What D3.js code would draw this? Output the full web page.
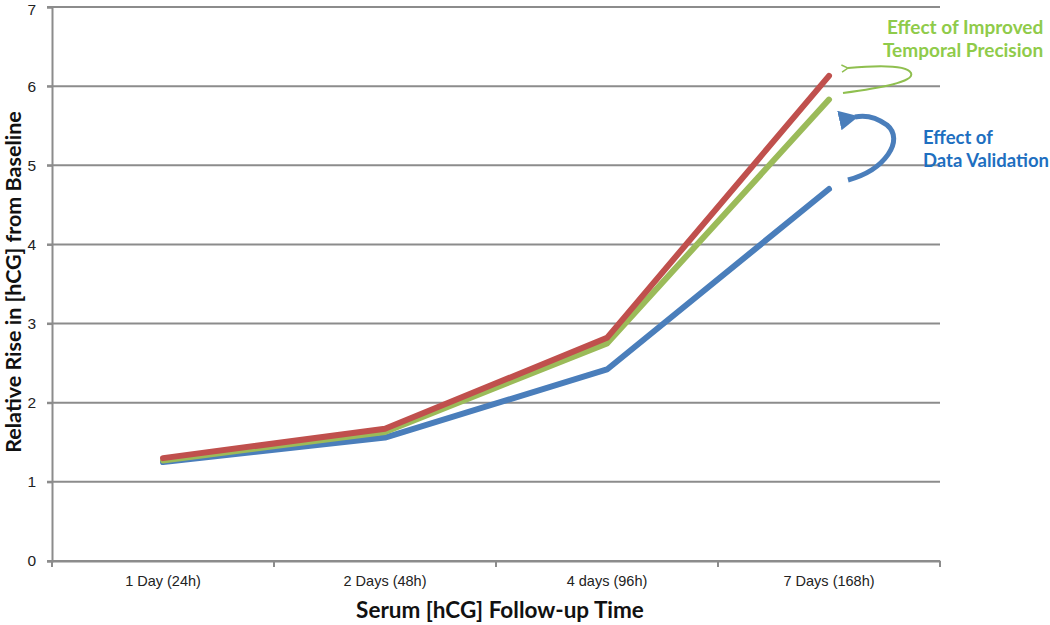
<!DOCTYPE html>
<html>
<head>
<meta charset="utf-8">
<script src="https://cdn.jsdelivr.net/npm/d3@7"></script>
<style>
  body { margin: 0; background: #fff; }
  svg { display: block; font-family: Lato, "Open Sans", sans-serif; }
</style>
</head>
<body>
<svg width="1050" height="625"></svg>
<script>
let categories = ['1 Day (24h)', '2 Days (48h)', '4 days (96h)', '7 Days (168h)']
let validated = [1.25, 1.56, 2.42, 4.70]
let precise = [1.27, 1.63, 2.75, 5.83]
let combined = [1.30, 1.67, 2.82, 6.13]
let yTicks = [0, 1, 2, 3, 4, 5, 6, 7]

let svg = d3.select('svg')
let plotLeft = 52, plotRight = 940, plotTop = 7, plotBottom = 561

let x = d3.scaleBand().domain(categories).range([plotLeft, plotRight])
let y = d3.scaleLinear().domain([0, 7]).range([plotBottom, plotTop])

// gridlines
svg.append('g')
  .selectAll('line')
  .data(yTicks)
  .join('line')
  .attr('x1', plotLeft - 5)
  .attr('x2', plotRight)
  .attr('y1', d => y(d))
  .attr('y2', d => y(d))
  .attr('stroke', '#8c8c8c')
  .attr('stroke-width', 2)

// y axis
let yAxis = svg.append('g')
  .attr('transform', `translate(${plotLeft},0)`)
  .call(d3.axisLeft(y).tickValues(yTicks).tickFormat(d3.format('d')).tickSize(5).tickPadding(11))
yAxis.select('.domain').attr('stroke', '#8c8c8c').attr('stroke-width', 2)
yAxis.selectAll('.tick line').attr('stroke', '#8c8c8c').attr('stroke-width', 2)
yAxis.selectAll('text')
  .attr('font-size', 15.5)
  .attr('fill', '#222')
  .attr('dy', d => d === 7 ? '0.5em' : '0.32em')

// x axis
let xAxis = svg.append('g')
  .attr('transform', `translate(0,${plotBottom})`)
  .call(d3.axisBottom(x).tickSize(0).tickPadding(15))
xAxis.select('.domain').attr('stroke', '#8c8c8c').attr('stroke-width', 2)
xAxis.selectAll('text').attr('font-size', 14.5).attr('fill', '#222')
svg.append('g')
  .selectAll('line')
  .data(categories.map(c => x(c)).concat([plotRight]))
  .join('line')
  .attr('x1', d => d)
  .attr('x2', d => d)
  .attr('y1', plotBottom)
  .attr('y2', plotBottom + 6)
  .attr('stroke', '#8c8c8c')
  .attr('stroke-width', 2)

// series lines
let line = d3.line()
  .x((d, i) => x(categories[i]) + x.bandwidth() / 2)
  .y(d => y(d))

let series = [
  { values: validated, color: '#4a7ebb' },
  { values: precise, color: '#9bbb59' },
  { values: combined, color: '#c0504d' }
]
svg.append('g')
  .selectAll('path')
  .data(series)
  .join('path')
  .attr('d', d => line(d.values))
  .attr('fill', 'none')
  .attr('stroke', d => d.color)
  .attr('stroke-width', 6)
  .attr('stroke-linecap', 'round')
  .attr('stroke-linejoin', 'round')

// axis titles
svg.append('text')
  .attr('x', 500)
  .attr('y', 618)
  .attr('text-anchor', 'middle')
  .attr('font-size', 22.5)
  .attr('font-weight', 'bold')
  .attr('fill', '#111')
  .text('Serum [hCG] Follow-up Time')

svg.append('text')
  .attr('transform', 'translate(21,282) rotate(-90)')
  .attr('text-anchor', 'middle')
  .attr('font-size', 21.5)
  .attr('font-weight', 'bold')
  .attr('fill', '#111')
  .text('Relative Rise in [hCG] from Baseline')

// annotations
let defs = svg.append('defs')
defs.append('marker')
  .attr('id', 'gHead')
  .attr('viewBox', '0 0 10 10')
  .attr('refX', 1).attr('refY', 5)
  .attr('markerWidth', 4.5).attr('markerHeight', 4.5)
  .attr('orient', 'auto-start-reverse')
  .append('path').attr('d', 'M8,1 L1,5 L8,9')
  .attr('fill', 'none').attr('stroke', '#8fbf4f').attr('stroke-width', 1.6)
defs.append('marker')
  .attr('id', 'bHead')
  .attr('viewBox', '0 0 10 10')
  .attr('refX', 2).attr('refY', 5)
  .attr('markerWidth', 4).attr('markerHeight', 4)
  .attr('orient', 'auto-start-reverse')
  .append('path').attr('d', 'M10,0 L0,5 L10,10 z').attr('fill', '#4a7ebb')

svg.append('path')
  .attr('d', 'M843,93 C880,88 915,82 911,73 C906,64 870,66 848,68')
  .attr('fill', 'none')
  .attr('stroke', '#8fbf4f')
  .attr('stroke-width', 2)
  .attr('marker-end', 'url(#gHead)')

svg.append('path')
  .attr('d', 'M848,180 C885,170 905,140 887,125 C876,117 864,115 855,117')
  .attr('fill', 'none')
  .attr('stroke', '#4a7ebb')
  .attr('stroke-width', 5)
  .attr('marker-end', 'url(#bHead)')

let green = svg.append('text')
  .attr('font-size', 19).attr('font-weight', 'bold').attr('fill', '#8fcb4a')
green.append('tspan').attr('x', 887).attr('y', 34).text('Effect of Improved')
green.append('tspan').attr('x', 883).attr('y', 57).text('Temporal Precision')

let blue = svg.append('text')
  .attr('font-size', 18.5).attr('font-weight', 'bold').attr('fill', '#1e6fc0')
blue.append('tspan').attr('x', 923).attr('y', 144).text('Effect of')
blue.append('tspan').attr('x', 923).attr('y', 167).text('Data Validation')
</script>
</body>
</html>
